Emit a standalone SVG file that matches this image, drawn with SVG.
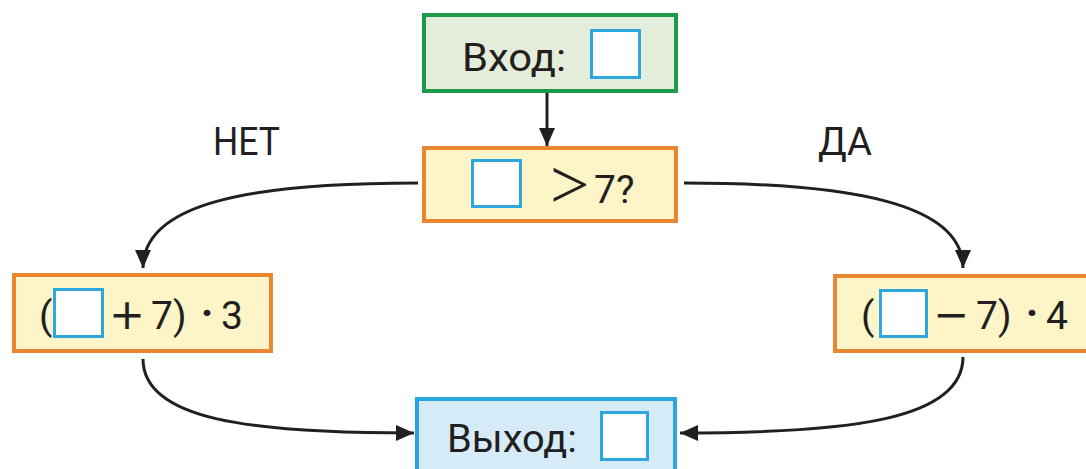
<svg xmlns="http://www.w3.org/2000/svg" width="1086" height="469" viewBox="0 0 1086 469">
<defs>
<style>
.t{font-family:Roboto,"Liberation Sans",sans-serif;font-size:39px;fill:#231f20}
.m{font-family:"DejaVu Sans",sans-serif;font-size:43px;fill:#231f20}
.gt{font-family:"Liberation Serif",serif;font-size:70px;fill:#231f20}
.d{font-family:Roboto,"Liberation Sans",sans-serif;font-size:42px;font-weight:bold;fill:#231f20;text-anchor:middle}
.lbl{font-family:Roboto,"Liberation Sans",sans-serif;font-size:38px;fill:#231f20}
.sq{fill:#ffffff;stroke:#2ea7df;stroke-width:3}
.g{fill:#e4edd9;stroke:#1e9a4c;stroke-width:4}
.o{fill:#fdf4c8;stroke:#ea8530;stroke-width:4}
.b{fill:#d5ebf8;stroke:#27a6e0;stroke-width:4}
.c{fill:none;stroke:#231f20;stroke-width:3}
</style>
<marker id="ah" markerUnits="userSpaceOnUse" markerWidth="20" markerHeight="16" refX="18" refY="8" orient="auto">
<path d="M0,0 L18,8 L0,16 Z" fill="#231f20"/>
</marker>
</defs>
<rect width="1086" height="469" fill="#ffffff"/>
<g id="connectors">
<path class="c" d="M547,93 L547,146" marker-end="url(#ah)"/>
<path class="c" d="M418,183 C250,183 143,203 143,268" marker-end="url(#ah)"/>
<path class="c" d="M684,183 C850,183 963,203 963,268" marker-end="url(#ah)"/>
<path class="c" d="M143,359 C143,420 250,433 414,433" marker-end="url(#ah)"/>
<path class="c" d="M963,357 C963,420 850,433 680,433" marker-end="url(#ah)"/>
</g>
<g id="input">
<rect class="g" x="424" y="15" width="252" height="76"/>
<text class="t" x="462" y="71" textLength="104" lengthAdjust="spacingAndGlyphs">Вход:</text>
<rect class="sq" x="591.5" y="30.5" width="48" height="47"/>
</g>
<g id="condition">
<rect class="o" x="424" y="148" width="252" height="73"/>
<rect class="sq" x="472.5" y="160.5" width="48" height="46"/>
<text class="gt" x="550" y="208">&gt;</text>
<text class="t" x="594" y="203">7?</text>
</g>
<g id="no-branch">
<rect class="o" x="14" y="275" width="257" height="76"/>
<text class="t" x="39" y="329">(</text>
<rect class="sq" x="54.5" y="289.5" width="48" height="47"/>
<text class="m" x="109" y="329">+</text>
<text class="t" x="151" y="329">7)</text>
<text class="d" x="207" y="327">·</text>
<text class="t" x="221" y="329">3</text>
</g>
<g id="yes-branch">
<rect class="o" x="835" y="276" width="260" height="75"/>
<text class="t" x="861" y="329">(</text>
<rect class="sq" x="880.5" y="290.5" width="46" height="46"/>
<text class="m" x="933" y="329">−</text>
<text class="t" x="976" y="329">7)</text>
<text class="d" x="1032" y="327">·</text>
<text class="t" x="1046" y="329">4</text>
</g>
<g id="output">
<rect class="b" x="417" y="399" width="258" height="80"/>
<text class="t" x="447" y="452" textLength="130" lengthAdjust="spacingAndGlyphs">Выход:</text>
<rect class="sq" x="601.5" y="412.5" width="46" height="47"/>
</g>
<g id="labels">
<text class="lbl" x="213" y="155" textLength="67" lengthAdjust="spacingAndGlyphs">НЕТ</text>
<text class="lbl" x="818" y="155" textLength="54" lengthAdjust="spacingAndGlyphs">ДА</text>
</g>
</svg>
